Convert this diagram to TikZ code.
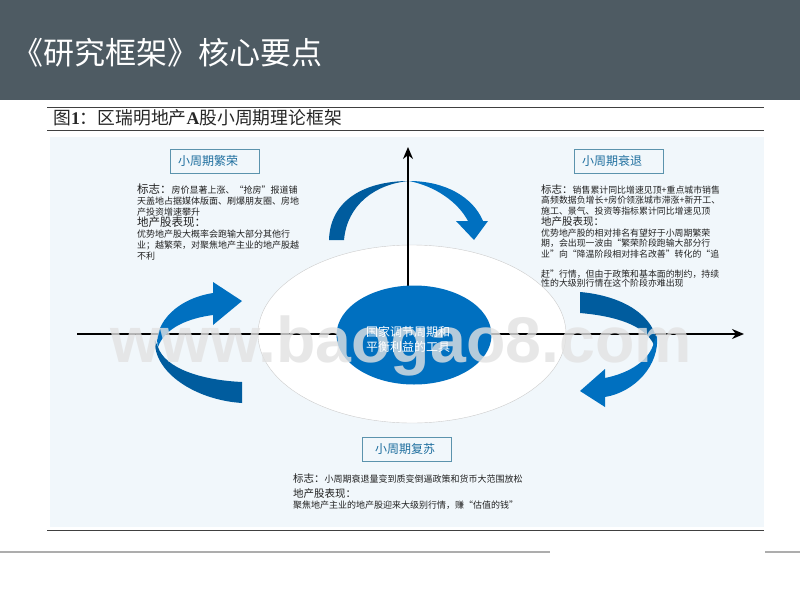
\documentclass[tikz,border=0pt]{standalone}
\usepackage{fontspec}
\usetikzlibrary{arrows.meta,shapes.geometric}
\setmainfont{Noto Sans CJK SC}
\newfontfamily\serifbold[BoldFont=Liberation Serif Bold]{Liberation Serif}
\newfontfamily\markfont{Liberation Sans Bold}
\definecolor{barcol}{HTML}{4E5B63}
\definecolor{panelcol}{HTML}{F1F7FB}
\definecolor{bluecol}{HTML}{0070C0}
\definecolor{darkcol}{HTML}{005C9E}
\definecolor{framecol}{HTML}{5B93AD}
\definecolor{labelcol}{HTML}{1F6F9F}
\definecolor{notecol}{HTML}{222222}
\definecolor{markcol}{HTML}{E2E2E2}
\newcommand{\headfont}{\fontsize{11.5}{11}\selectfont}
\newcommand{\smallhead}{\fontsize{10.5}{10.5}\selectfont}
\newcommand{\phasetext}[2]{\raisebox{-3pt}{#1\hspace{#2}}}
\tikzset{
  phasebox/.style={draw=framecol,line width=1pt,fill=panelcol,text=labelcol,minimum width=89pt,minimum height=24pt,inner sep=0pt,font=\fontsize{12}{14}\selectfont},
  notetext/.style={anchor=north west,inner sep=0pt,align=left,text=notecol},
  axisline/.style={line width=2pt,black,-{Stealth[length=12pt,width=10pt]}}
}
\begin{document}
\begin{tikzpicture}[x=1pt,y=-1pt]
      \useasboundingbox (0,0) rectangle (800,600);
      \fill[barcol] (0,0) rectangle (800,100);
      \node[anchor=west,inner sep=0pt,text=white,font=\fontsize{31}{34}\selectfont] (slidetitle) at (12,53) {《研究框架》核心要点};
      \fill[panelcol] (50,137) rectangle (764,527);
      \draw[line width=1pt,black!75] (47,107) -- (764,107);
      \draw[line width=1pt,black!75] (47,130) -- (764,130);
      \draw[line width=1pt,black!75] (47,530) -- (764,530);
      \draw[line width=2pt,black!32] (0,551.5) -- (550,551.5);
      \draw[line width=2pt,black!32] (765,551.5) -- (800,551.5);
      \node[anchor=west,inner sep=0pt,text=black!85,font=\fontsize{17.8}{20}\selectfont] (figtitle) at (53,118) {图{\serifbold\bfseries 1}：区瑞明地产{\serifbold\bfseries A}股小周期理论框架};
      \node[draw=black!20,fill=white,ellipse,minimum width=308pt,minimum height=178pt,inner sep=0pt] (outerring) at (412,334) {};
      \coordinate (xstart) at (77,334);
      \coordinate (xend) at (744,334);
      \coordinate (ystart) at (408,334);
      \coordinate (yend) at (408,147);
      \draw[axisline] (xstart) -- (xend);
      % upper arrow
      \fill[darkcol] (329,240) .. controls (330,200) and (365,181) .. (409,181) .. controls (375,184) and (347,205) .. (344,240) -- cycle;
      \fill[bluecol] (409,181) .. controls (445,181) and (473,197) .. (483,221) -- (488,221) -- (474,240) -- (456,221) -- (468,221) .. controls (458,202) and (435,186) .. (409,181) -- cycle;
      % left arrow
      \fill[bluecol] (213,293) -- (213,282) -- (242,301) -- (213,325) -- (213,315) .. controls (190,318) and (165,327) .. (158,347) .. controls (153,330) and (170,300) .. (213,293) -- cycle;
      \fill[darkcol] (155,340) .. controls (153,372) and (195,400) .. (242,403) -- (242,382) .. controls (200,380) and (165,368) .. (158,347) -- cycle;
      % right arrow
      \fill[darkcol] (580,292) .. controls (615,295) and (650,310) .. (657,340) -- (654,345) .. controls (645,325) and (615,316) .. (580,313) -- cycle;
      \fill[bluecol] (657,335) .. controls (660,365) and (635,392) .. (605,397) -- (605,407) -- (580,391) -- (605,369) -- (605,378) .. controls (630,373) and (650,360) .. (654,342) -- cycle;
      \draw[axisline] (ystart) -- (yend);
      \node[fill=bluecol,ellipse,minimum width=155pt,minimum height=99pt,inner sep=0pt] (corering) at (414,335) {};
      \node[phasebox] (boomlabel) at (214.5,161) {\phasetext{小周期繁荣}{13pt}};
      \node[phasebox] (declinelabel) at (618.5,161) {\phasetext{小周期衰退}{13pt}};
      \node[phasebox] (recoverlabel) at (406.5,449) {\phasetext{小周期复苏}{3pt}};
      \node[notetext,font=\fontsize{9}{11.1}\selectfont] (boomnote) at (137,183.5) {{\headfont 标志：}房价显著上涨、“抢房”报道铺\\
        天盖地占据媒体版面、刷爆朋友圈、房地\\
        产投资增速攀升\\
        {\headfont 地产股表现：}\\
        优势地产股大概率会跑输大部分其他行\\
        业；越繁荣，对聚焦地产主业的地产股越\\
        不利};
      \node[notetext,font=\fontsize{8.9}{10.5}\selectfont] (declinenote) at (541,184) {{\smallhead 标志：}销售累计同比增速见顶+重点城市销售\\
        高频数据负增长+房价领涨城市滞涨+新开工、\\
        施工、景气、投资等指标累计同比增速见顶\\[1pt]
        {\smallhead 地产股表现：}\\
        优势地产股的相对排名有望好于小周期繁荣\\
        期，会出现一波由“繁荣阶段跑输大部分行\\
        业”向“降温阶段相对排名改善”转化的“追\\[-1pt]
        \\
        赶”行情，但由于政策和基本面的制约，持续\\[-1pt]
        性的大级别行情在这个阶段亦难出现};
      \node[notetext,font=\fontsize{9}{11}\selectfont] (recovernote) at (293,473) {{\smallhead 标志：}小周期衰退量变到质变倒逼政策和货币大范围放松\\[4pt]
        {\smallhead 地产股表现：}\\
        聚焦地产主业的地产股迎来大级别行情，赚“估值的钱”};
      \node[anchor=base west,inner sep=0pt,text=markcol,opacity=0.8,font=\markfont\fontsize{64.5}{70}\selectfont] (watermark) at (110,362) {www.baogao8.com};
      \node[align=center,inner sep=0pt,text=white,font=\fontsize{12}{15}\selectfont] (coretext) at (408,339.5) {国家调节周期和\\平衡利益的工具};
\end{tikzpicture}
\end{document}
